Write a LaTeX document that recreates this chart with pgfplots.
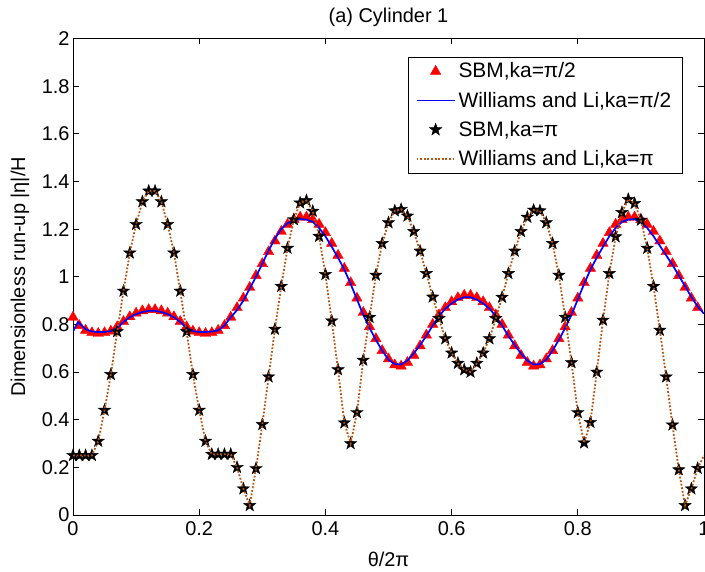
\documentclass[border=0pt]{standalone}
\usepackage{fontspec}
\setmainfont{Liberation Sans}
\usepackage{pgfplots}
\pgfplotsset{compat=1.18}
\usepackage{pgfplotstable}

\definecolor{brownline}{RGB}{180,85,20}

\pgfdeclareplotmark{fstar}{%
  \pgfpathmoveto{\pgfpointpolar{90}{\pgfplotmarksize}}%
  \pgfpathlineto{\pgfpointpolar{126}{0.40\pgfplotmarksize}}%
  \pgfpathlineto{\pgfpointpolar{162}{\pgfplotmarksize}}%
  \pgfpathlineto{\pgfpointpolar{198}{0.40\pgfplotmarksize}}%
  \pgfpathlineto{\pgfpointpolar{234}{\pgfplotmarksize}}%
  \pgfpathlineto{\pgfpointpolar{270}{0.40\pgfplotmarksize}}%
  \pgfpathlineto{\pgfpointpolar{306}{\pgfplotmarksize}}%
  \pgfpathlineto{\pgfpointpolar{342}{0.40\pgfplotmarksize}}%
  \pgfpathlineto{\pgfpointpolar{18}{\pgfplotmarksize}}%
  \pgfpathlineto{\pgfpointpolar{54}{0.40\pgfplotmarksize}}%
  \pgfpathclose
  \pgfusepathqfillstroke}

% SBM, ka = pi/2
\pgfplotstableread{
x y
0.00 0.83
0.01 0.795
0.02 0.775
0.03 0.765
0.04 0.762
0.05 0.765
0.06 0.772
0.07 0.79
0.08 0.812
0.09 0.832
0.10 0.847
0.11 0.857
0.12 0.862
0.13 0.862
0.14 0.857
0.15 0.847
0.16 0.832
0.17 0.812
0.18 0.79
0.19 0.772
0.20 0.765
0.21 0.762
0.22 0.765
0.23 0.775
0.24 0.795
0.25 0.83
0.26 0.87
0.27 0.91
0.28 0.955
0.29 1.005
0.30 1.055
0.31 1.105
0.32 1.15
0.33 1.19
0.34 1.22
0.35 1.24
0.36 1.25
0.37 1.25
0.38 1.24
0.39 1.22
0.40 1.185
0.41 1.14
0.42 1.09
0.43 1.035
0.44 0.975
0.45 0.91
0.46 0.85
0.47 0.79
0.48 0.74
0.49 0.69
0.50 0.655
0.51 0.63
0.52 0.625
0.53 0.64
0.54 0.67
0.55 0.71
0.56 0.755
0.57 0.80
0.58 0.84
0.59 0.87
0.60 0.895
0.61 0.912
0.62 0.922
0.63 0.922
0.64 0.912
0.65 0.895
0.66 0.87
0.67 0.84
0.68 0.80
0.69 0.755
0.70 0.71
0.71 0.67
0.72 0.64
0.73 0.625
0.74 0.63
0.75 0.655
0.76 0.69
0.77 0.74
0.78 0.79
0.79 0.85
0.80 0.91
0.81 0.975
0.82 1.035
0.83 1.09
0.84 1.14
0.85 1.185
0.86 1.22
0.87 1.24
0.88 1.25
0.89 1.25
0.90 1.24
0.91 1.22
0.92 1.19
0.93 1.15
0.94 1.105
0.95 1.055
0.96 1.005
0.97 0.955
0.98 0.91
0.99 0.87
}\sbmhalf

% Williams and Li, ka = pi/2
\pgfplotstableread{
x y
0.000 0.77
0.008 0.81
0.02 0.78
0.03 0.77
0.04 0.768
0.05 0.768
0.06 0.772
0.07 0.785
0.08 0.81
0.09 0.83
0.10 0.843
0.11 0.852
0.12 0.857
0.13 0.857
0.14 0.852
0.15 0.843
0.16 0.83
0.17 0.81
0.18 0.785
0.19 0.772
0.20 0.768
0.21 0.768
0.22 0.77
0.23 0.775
0.24 0.795
0.25 0.83
0.26 0.86
0.27 0.90
0.28 0.95
0.29 1.00
0.30 1.055
0.31 1.11
0.32 1.16
0.33 1.20
0.34 1.225
0.35 1.237
0.36 1.242
0.37 1.24
0.38 1.23
0.39 1.205
0.40 1.17
0.41 1.126
0.42 1.08
0.43 1.03
0.44 0.97
0.45 0.905
0.46 0.84
0.47 0.785
0.48 0.735
0.49 0.69
0.50 0.652
0.51 0.633
0.52 0.632
0.53 0.648
0.54 0.678
0.55 0.713
0.56 0.752
0.57 0.795
0.58 0.835
0.59 0.866
0.60 0.888
0.61 0.904
0.62 0.914
0.63 0.914
0.64 0.904
0.65 0.888
0.66 0.866
0.67 0.835
0.68 0.795
0.69 0.752
0.70 0.713
0.71 0.678
0.72 0.648
0.73 0.632
0.74 0.633
0.75 0.652
0.76 0.69
0.77 0.735
0.78 0.785
0.79 0.84
0.80 0.905
0.81 0.97
0.82 1.03
0.83 1.08
0.84 1.126
0.85 1.17
0.86 1.205
0.87 1.23
0.88 1.24
0.89 1.242
0.90 1.228
0.91 1.205
0.92 1.17
0.93 1.13
0.94 1.09
0.95 1.05
0.96 1.005
0.97 0.96
0.98 0.915
0.99 0.875
1.00 0.845
}\wlhalf

% SBM, ka = pi
\pgfplotstableread{
x y
0.00 0.25
0.01 0.25
0.02 0.25
0.03 0.25
0.04 0.31
0.05 0.44
0.06 0.59
0.07 0.77
0.08 0.94
0.09 1.10
0.10 1.22
0.11 1.315
0.12 1.36
0.13 1.36
0.14 1.315
0.15 1.22
0.16 1.10
0.17 0.94
0.18 0.77
0.19 0.59
0.20 0.44
0.21 0.31
0.22 0.255
0.23 0.255
0.24 0.255
0.25 0.255
0.26 0.20
0.27 0.11
0.28 0.04
0.29 0.195
0.30 0.38
0.31 0.58
0.32 0.78
0.33 0.96
0.34 1.12
0.35 1.24
0.36 1.31
0.37 1.32
0.38 1.275
0.39 1.17
0.40 1.01
0.41 0.815
0.42 0.61
0.43 0.387
0.44 0.30
0.45 0.43
0.46 0.65
0.47 0.83
0.48 1.007
0.49 1.14
0.50 1.227
0.51 1.277
0.52 1.283
0.53 1.255
0.54 1.19
0.55 1.108
0.56 1.014
0.57 0.915
0.58 0.825
0.59 0.74
0.60 0.68
0.61 0.637
0.62 0.61
0.63 0.60
0.64 0.637
0.65 0.68
0.66 0.74
0.67 0.825
0.68 0.914
0.69 1.014
0.70 1.108
0.71 1.19
0.72 1.25
0.73 1.28
0.74 1.277
0.75 1.227
0.76 1.14
0.77 1.007
0.78 0.83
0.79 0.64
0.80 0.43
0.81 0.303
0.82 0.389
0.83 0.60
0.84 0.818
0.85 1.014
0.86 1.168
0.87 1.27
0.88 1.325
0.89 1.308
0.90 1.238
0.91 1.12
0.92 0.96
0.93 0.776
0.94 0.58
0.95 0.378
0.96 0.19
0.97 0.04
0.98 0.11
0.99 0.196
}\sbmpi

% Williams and Li, ka = pi
\pgfplotstableread{
x y
0.00 0.25
0.01 0.25
0.02 0.25
0.03 0.25
0.04 0.31
0.05 0.44
0.06 0.59
0.07 0.77
0.08 0.94
0.09 1.10
0.10 1.22
0.11 1.315
0.12 1.36
0.13 1.36
0.14 1.315
0.15 1.22
0.16 1.10
0.17 0.94
0.18 0.77
0.19 0.59
0.20 0.44
0.21 0.31
0.22 0.255
0.23 0.255
0.24 0.255
0.25 0.255
0.26 0.20
0.27 0.11
0.28 0.04
0.29 0.195
0.30 0.38
0.31 0.58
0.32 0.78
0.33 0.96
0.34 1.12
0.35 1.24
0.36 1.31
0.37 1.32
0.38 1.275
0.39 1.17
0.40 1.01
0.41 0.815
0.42 0.61
0.43 0.387
0.44 0.30
0.45 0.43
0.46 0.65
0.47 0.83
0.48 1.007
0.49 1.14
0.50 1.227
0.51 1.277
0.52 1.283
0.53 1.255
0.54 1.19
0.55 1.108
0.56 1.014
0.57 0.915
0.58 0.825
0.59 0.74
0.60 0.68
0.61 0.637
0.62 0.61
0.63 0.60
0.64 0.637
0.65 0.68
0.66 0.74
0.67 0.825
0.68 0.914
0.69 1.014
0.70 1.108
0.71 1.19
0.72 1.25
0.73 1.28
0.74 1.277
0.75 1.227
0.76 1.14
0.77 1.007
0.78 0.83
0.79 0.64
0.80 0.43
0.81 0.303
0.82 0.389
0.83 0.60
0.84 0.818
0.85 1.014
0.86 1.168
0.87 1.27
0.88 1.325
0.89 1.308
0.90 1.238
0.91 1.12
0.92 0.96
0.93 0.776
0.94 0.58
0.95 0.378
0.96 0.19
0.97 0.04
0.98 0.11
0.99 0.196
1.00 0.25
}\wlpi

\begin{document}
\begin{tikzpicture}[font=\fontsize{20}{24}\selectfont]
\begin{axis}[
  at={(73bp,57bp)}, anchor=south west,
  scale only axis, width=631bp, height=476.5bp,
  xmin=0, xmax=1, ymin=0, ymax=2,
  xtick={0,0.2,0.4,0.6,0.8,1},
  ytick={0,0.2,0.4,0.6,0.8,1,1.2,1.4,1.6,1.8,2},
  /pgf/number format/assume math mode=true,
  tick label style={font=\fontsize{20}{24}\selectfont},
  xticklabel style={yshift=-3bp},
  tick align=inside, major tick length=6bp,
  axis line style={line width=0.8bp},
  every tick/.style={black, line width=0.8bp},
  title={(a) Cylinder 1},
  title style={at={(axis description cs:0.5,1)}, anchor=south, yshift=4bp, inner sep=2bp},
  xlabel={θ/2π},
  xlabel style={at={(axis description cs:0.5,-0.094)}, anchor=center},
  ylabel={Dimensionless run-up |η|/H},
  ylabel style={at={(axis description cs:-0.084,0.5)}, anchor=center},
  clip mode=individual,
  legend cell align=left,
  legend image code/.code={\draw[mark repeat=2,mark phase=2,#1] plot coordinates {(0bp,0bp) (19bp,0bp) (38bp,0bp)};},
  legend style={at={(rel axis cs:0.965,0.962)}, anchor=north east,
    draw=black, fill=white, font=\fontsize{21}{25}\selectfont,
    inner xsep=7.5bp, inner ysep=3bp, row sep=6bp,
    nodes={inner sep=3bp, text depth=0.2em}},
]
\addplot[only marks, mark=triangle*, mark size=6bp, color=red, draw=red, fill=red] table {\sbmhalf};
\addlegendentry{SBM,ka=π/2}
\addplot[color=blue, draw=blue, line width=1.7bp, no marks] table {\wlhalf};
\addlegendentry{Williams and Li,ka=π/2}
\addplot[only marks, mark=fstar, mark size=6.5bp, black, draw=black, fill=black, line width=0.4bp] table {\sbmpi};
\addlegendentry{SBM,ka=π}
\addplot[color=brownline, draw=brownline, line width=1.8bp, dash pattern=on 1.8bp off 1.8bp, no marks] table {\wlpi};
\addlegendentry{Williams and Li,ka=π}
\end{axis}
\pgfresetboundingbox
\path[use as bounding box] (0,0) rectangle (705bp,572bp);
\end{tikzpicture}
\end{document}
